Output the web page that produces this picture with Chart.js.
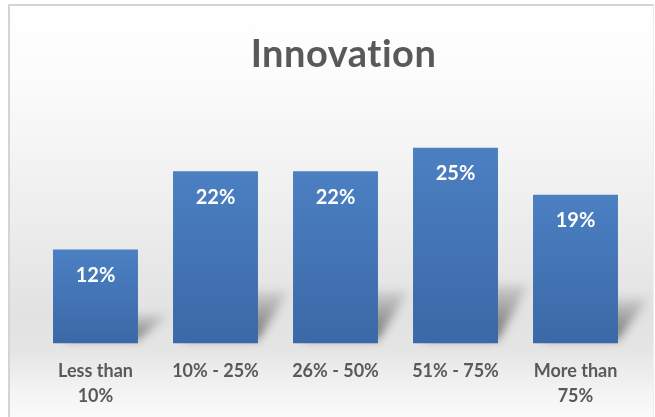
<!DOCTYPE html>
<html>
<head>
<meta charset="utf-8">
<script src="https://cdn.jsdelivr.net/npm/chart.js@4.4.0/dist/chart.umd.min.js"></script>
<style>
  html, body { margin: 0; padding: 0; background: #ffffff; }
  #wrap {
    position: relative; width: 655px; height: 417px; overflow: hidden;
  }
  #frame {
    position: absolute; left: 8px; top: 4px; width: 643px; height: 430px;
    border-top: 2px solid #d4d4d4; border-left: 2px solid #d4d4d4; border-right: 1px solid #ececec;
    background: linear-gradient(to bottom, #ffffff 0%, #fbfbfb 18%, #efefef 45%, #e2e2e2 72%, #e5e5e5 80%, #f4f4f4 90%, #ffffff 100%);
  }
  #c { position: absolute; left: 0; top: 0; }
</style>
</head>
<body>
<div id="wrap">
  <div id="frame"></div>
  <canvas id="c" width="655" height="417"></canvas>
</div>
<script>
var chartTitle = "Innovation";
var categories = [["Less than", "10%"], "10% - 25%", "26% - 50%", "51% - 75%", ["More than", "75%"]];
var shares = [12, 22, 22, 25, 19];

var textGray = "#595959";
var fontFamily = "Lato, 'Open Sans', sans-serif";

// gradient per bar, from its own top down to the base
function barFill(ctx) {
  var chart = ctx.chart;
  var y = chart.scales.y;
  if (!chart.chartArea || !y || ctx.parsed == null) return "#4677b6";
  var top = y.getPixelForValue(ctx.parsed.y);
  var base = y.getPixelForValue(0);
  var g = chart.ctx.createLinearGradient(0, top, 0, base);
  g.addColorStop(0, "#4b80c2");
  g.addColorStop(1, "#3b68a7");
  return g;
}

// soft shadow falling back to the right of every bar
var barShadow = {
  id: "barShadow",
  beforeDatasetsDraw: function (chart) {
    var ctx = chart.ctx;
    var meta = chart.getDatasetMeta(0);
    ctx.save();
    ctx.filter = "blur(5px)";
    meta.data.forEach(function (bar) {
      var left = bar.x - bar.width / 2, right = bar.x + bar.width / 2;
      var h = bar.base - bar.y;
      var dx = 30, dy = h * 0.3;
      var g = ctx.createLinearGradient(0, bar.base, 0, bar.base - dy);
      g.addColorStop(0, "rgba(50,50,50,0.7)");
      g.addColorStop(1, "rgba(50,50,50,0.12)");
      ctx.fillStyle = g;
      ctx.beginPath();
      ctx.moveTo(left + 10, bar.base - 4);
      ctx.lineTo(right, bar.base - 4);
      ctx.lineTo(right + dx, bar.base - dy);
      ctx.lineTo(left + 10 + dx, bar.base - dy);
      ctx.closePath();
      ctx.fill();
    });
    ctx.restore();
  }
};

// value labels inside the bars plus the heading
var barText = {
  id: "barText",
  afterDatasetsDraw: function (chart) {
    var ctx = chart.ctx;
    var meta = chart.getDatasetMeta(0);
    ctx.save();
    ctx.fillStyle = "#ffffff";
    ctx.font = "bold 20px " + fontFamily;
    ctx.textAlign = "center";
    ctx.textBaseline = "middle";
    meta.data.forEach(function (bar, i) {
      ctx.fillText(shares[i] + "%", bar.x, bar.y + 26);
    });
    ctx.fillStyle = textGray;
    ctx.font = "bold 38px " + fontFamily;
    ctx.letterSpacing = "0.5px";
    ctx.textBaseline = "alphabetic";
    ctx.fillText(chartTitle, (chart.chartArea.left + chart.chartArea.right) / 2 + 8, 67);
    ctx.restore();
  }
};

new Chart(document.getElementById("c").getContext("2d"), {
  type: "bar",
  data: {
    labels: categories,
    datasets: [{
      data: shares,
      backgroundColor: barFill,
      borderWidth: 0,
      categoryPercentage: 1,
      barPercentage: 0.708
    }]
  },
  options: {
    responsive: false,
    animation: false,
    layout: { padding: { left: 35.5, right: 19.5, top: 108.6, bottom: -6.5 } },
    plugins: {
      legend: { display: false },
      title: { display: false },
      tooltip: { enabled: false }
    },
    scales: {
      x: {
        grid: { display: false, drawTicks: false },
        border: { display: false },
        ticks: {
          color: textGray,
          padding: 15,
          maxRotation: 0,
          font: { family: fontFamily, size: 18, weight: "bold", lineHeight: 1.39 }
        }
      },
      y: {
        display: false,
        min: 0,
        max: 30
      }
    }
  },
  plugins: [barShadow, barText]
});
</script>
</body>
</html>
